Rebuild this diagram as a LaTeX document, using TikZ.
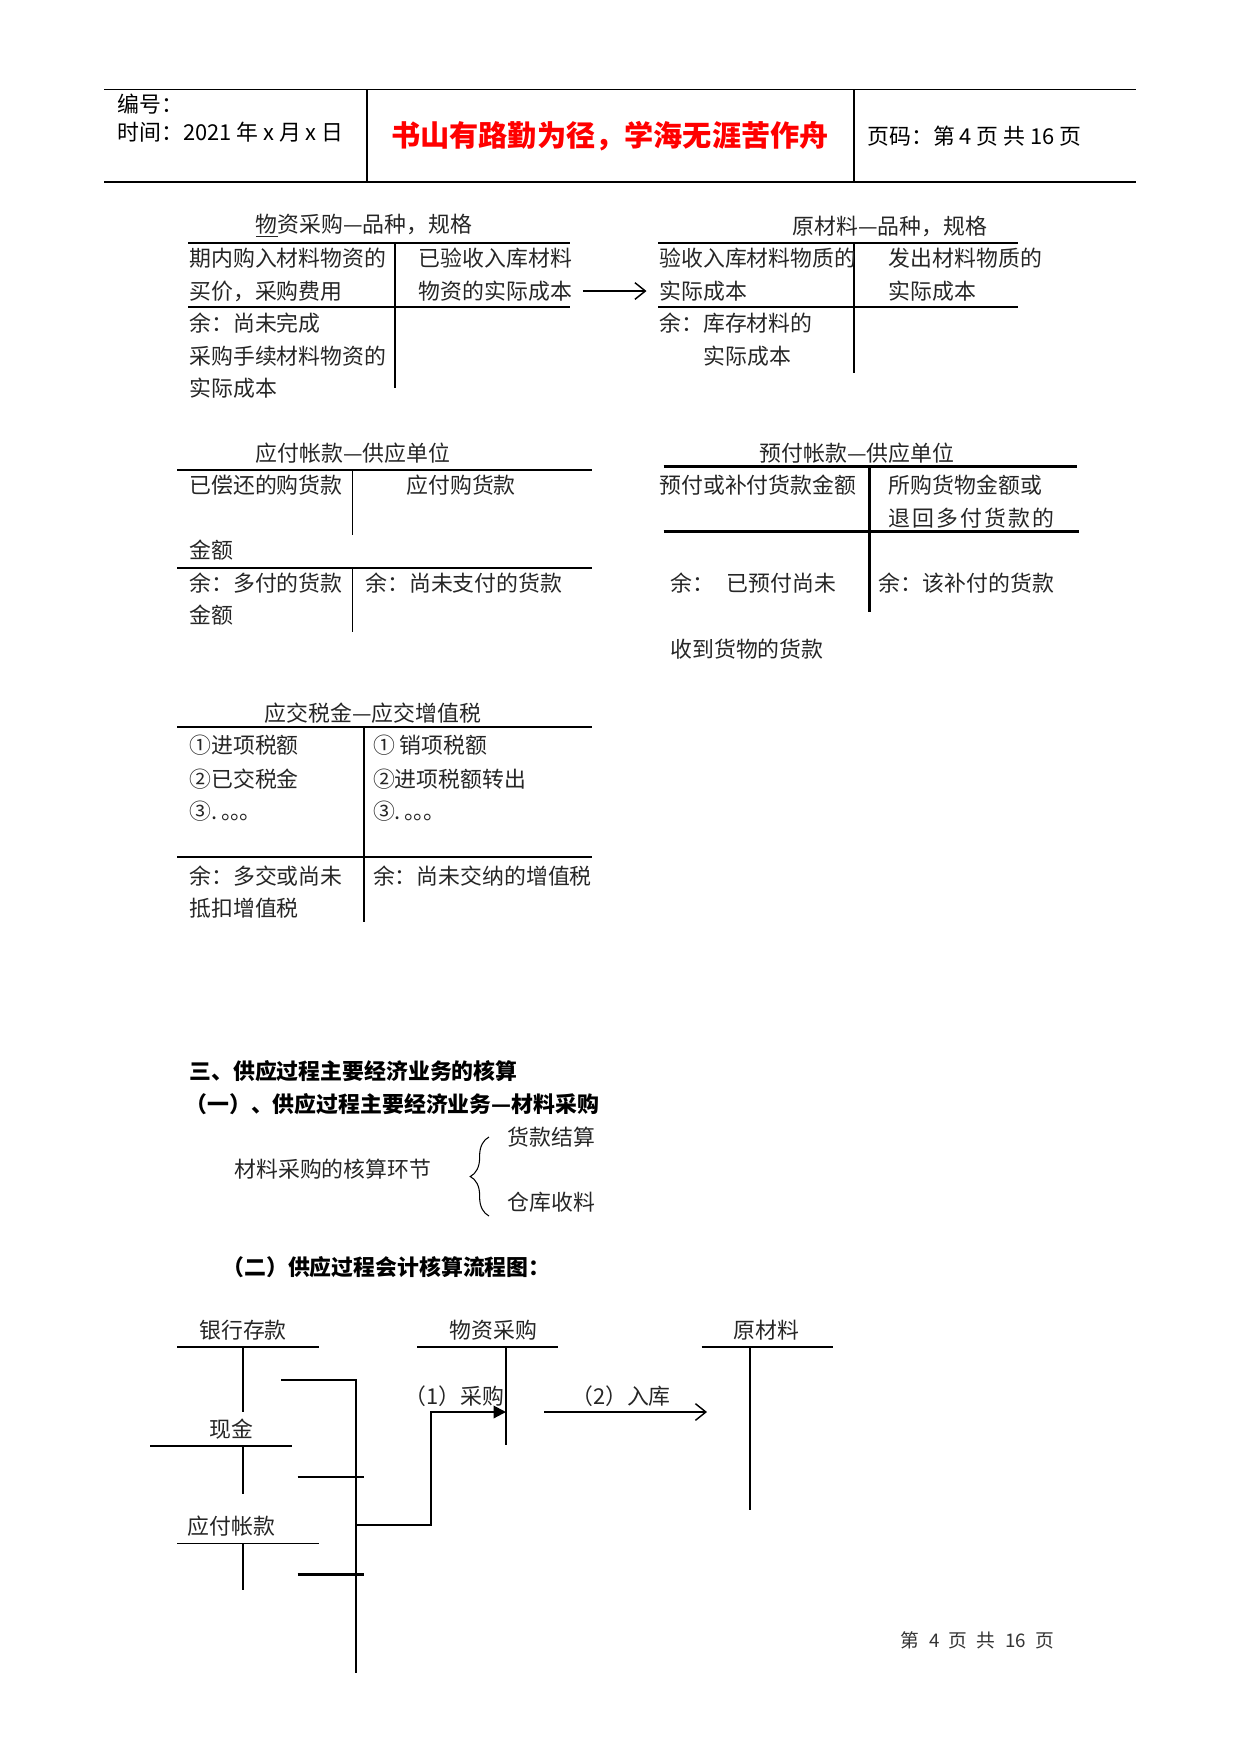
\documentclass[tikz,border=0pt]{standalone}
\usepackage{fontspec}
\setmainfont{Noto Sans CJK SC}
\usetikzlibrary{arrows.meta,positioning,calc,decorations.pathreplacing}

\newcommand{\dianhao}{\makebox[0.42em][l]{。}}

\begin{document}
\begin{tikzpicture}[
    x=0.48pt, y=-0.48pt,
    txt/.style={anchor=west, inner sep=0pt, font=\fontsize{10.5pt}{12pt}\selectfont, text=black!85},
    ttl/.style={inner sep=0pt, font=\fontsize{10.5pt}{12pt}\selectfont, text=black!85},
    hd/.style={anchor=west, inner sep=0pt, font=\fontsize{10.5pt}{12pt}\selectfont\bfseries},
    rule/.style={line width=0.5pt},
    heavy/.style={line width=1pt},
    arrow/.style={-{Straight Barb[length=5pt,width=8pt]}, line width=0.7pt},
    farrow/.style={-{Triangle[length=6pt,width=6pt]}, line width=1pt}
]
\useasboundingbox (0,0) rectangle (1241,1754);

% page header
\draw[rule] (104,89.5) -- (1136,89.5);
\draw[rule] (104,182) -- (1136,182);
\draw[heavy] (367,89.5) -- (367,182);
\draw[rule] (854,89.5) -- (854,182);
\node[txt, text=black] (bianhao) at (117,104) {编号：};
\node[txt, text=black] (shijian) at (117,132) {时间：2021 年 x 月 x 日};
\node[inner sep=0pt, font=\fontsize{14pt}{16pt}\selectfont\bfseries, text=red] (motto) at (610,136) {书山有路勤为径，学海无涯苦作舟};
\node[txt, text=black] (yema) at (867,136) {页码：第 4 页 共 16 页};

% T account: wuzi caigou
\node[ttl] (wzcg) at (364,226) {\underline{物}资采购—品种，规格};
\draw[rule] (188,243) -- (570,243);
\draw[rule] (188,307) -- (570,307);
\draw[rule] (395,243) -- (395,388);
\node[txt] (wzl1) at (189,258.5) {期内购入材料物资的};
\node[txt] (wzl2) at (189,291) {买价，采购费用};
\node[txt] (wzr1) at (418.5,258.5) {已验收入库材料};
\node[txt] (wzr2) at (418.5,291) {物资的实际成本};
\node[txt] (wzy1) at (189,323) {余：尚未完成};
\node[txt] (wzy2) at (189,356) {采购手续材料物资的};
\node[txt] (wzy3) at (189,388) {实际成本};

% T account: yuan cailiao
\node[ttl] (ycl) at (890,226) {原材料—品种，规格};
\draw[rule] (658,243) -- (1018,243);
\draw[rule] (658,307) -- (1018,307);
\draw[rule] (854,243) -- (854,373);
\node[txt] (ycll1) at (659,258.5) {验收入库材料物质的};
\node[txt] (ycll2) at (659,291) {实际成本};
\node[txt] (yclr1) at (888.5,258.5) {发出材料物质的};
\node[txt] (yclr2) at (888.5,291) {实际成本};
\node[txt] (ycly1) at (659,323) {余：库存材料的};
\node[txt] (ycly2) at (703,356) {实际成本};

\draw[arrow] ([xshift=5pt]wzr2.east) -- ([xshift=-6pt]ycll2.west);

% T account: yingfu zhangkuan
\node[ttl] (yfzk) at (353,453) {应付帐款—供应单位};
\draw[heavy] (177,470) -- (592,470);
\draw[rule] (177,568) -- (592,568);
\draw[rule] (352.5,470) -- (352.5,535);
\draw[rule] (352.5,568) -- (352.5,632);
\node[txt] (yfl1) at (189,485.5) {已偿还的购货款};
\node[txt] (yfr1) at (406,485.5) {应付购货款};
\node[txt] (yfl2) at (189,550.5) {金额};
\node[txt] (yfy1) at (189,583) {余：多付的货款};
\node[txt] (yfy2) at (189,615.5) {金额};
\node[txt] (yfy3) at (365,583) {余：尚未支付的货款};

% T account: yufu zhangkuan
\node[ttl] (yuzk) at (857,453) {预付帐款—供应单位};
\draw[heavy] (663.5,466.5) -- (1076.5,466.5);
\draw[heavy] (663.5,531.5) -- (1079,531.5);
\draw[heavy] (869.5,466.5) -- (869.5,612);
\node[txt] (yul1) at (659,485.5) {预付或补付货款金额};
\node[txt] (yur1) at (888.5,485.5) {所购货物金额或};
\node[txt] (yur2) at (888.5,518) {退\kern1pt 回\kern1pt 多\kern1pt 付\kern1pt 货\kern1pt 款\kern1pt 的};
\node[txt] (yuy1) at (670,583) {余：\hspace{6pt}已预付尚未};
\node[txt] (yuy2) at (878.5,583) {余：该补付的货款};
\node[txt] (yuy3) at (670,649) {收到货物的货款};

% T account: yingjiao shuijin
\node[ttl] (yjsj) at (373,713) {应交税金—应交增值税};
\draw[heavy] (177,727) -- (592,727);
\draw[heavy] (177,857) -- (592,857);
\draw[heavy] (363.7,727) -- (363.7,922);
\node[txt] (sjl1) at (189,745) {①进项税额};
\node[txt] (sjl2) at (189,779) {②已交税金};
\node[txt] (sjl3) at (189,811) {③.\,\dianhao\dianhao\dianhao};
\node[txt] (sjr1) at (372.6,745) {① 销项税额};
\node[txt] (sjr2) at (372.6,779) {②进项税额转出};
\node[txt] (sjr3) at (372.6,811) {③.\,\dianhao\dianhao\dianhao};
\node[txt] (sjy1) at (189,876) {余：多交或尚未};
\node[txt] (sjy2) at (189,908.6) {抵扣增值税};
\node[txt] (sjy3) at (372.6,876) {余：尚未交纳的增值税};

% section headings
\node[hd] (sec3) at (189,1071) {三、供应过程主要经济业务的核算};
\node[hd] (sec31) at (185,1104.5) {（一）、供应过程主要经济业务—材料采购};
\node[txt] (hj) at (234,1169) {材料采购的核算环节};
\node[txt] (hkjs) at (507,1137) {货款结算};
\node[txt] (cksl) at (507,1202) {仓库收料};
\draw[rule, decorate, decoration={brace, amplitude=9pt}] (489,1216) -- (489,1137);
\node[hd] (sec32) at (222,1267) {（二）供应过程会计核算流程图：};

% flow chart
\node[ttl] (yhck) at (243,1330.5) {银行存款};
\draw[rule] (177,1347) -- (319,1347);
\draw[heavy] (243,1347) -- (243,1412);
\node[ttl] (xj) at (231.6,1429) {现金};
\draw[heavy] (150,1446) -- (292,1446);
\draw[heavy] (243,1446) -- (243,1494);
\node[ttl] (yfzk2) at (231.6,1526) {应付帐款};
\draw[rule] (177,1543) -- (319,1543);
\draw[heavy] (243,1543) -- (243,1590);

\draw[heavy] (281,1380) -- (356,1380) -- (356,1673);
\draw[rule] (297.6,1477) -- (363.7,1477);
\draw[heavy] (297.6,1574.5) -- (363.7,1574.5);

\node[ttl] (wzcg2) at (493.5,1330.5) {物资采购};
\draw[rule] (417,1347) -- (558,1347);
\draw[heavy] (506,1347) -- (506,1444.6);

\node[ttl] (ycl2) at (766.5,1330.5) {原材料};
\draw[rule] (701.6,1347) -- (832.5,1347);
\draw[heavy] (749.7,1347) -- (749.7,1509.5);

\coordinate (joint) at (356,1525);
\coordinate (wzin) at (506,1412);
\coordinate (rkstart) at (544,1412);
\coordinate (rkend) at (707,1412);
\draw[farrow] (joint) -- ++(75,0) |- (wzin);
\node[ttl, anchor=east] (cg) at (505,1396.5) {（1）采购};
\draw[arrow] (rkstart) -- (rkend);
\node[ttl] (rk) at (621,1396.5) {（2）入库};

% page footer
\node[ttl, font=\fontsize{9pt}{11pt}\selectfont, text=black!80] (foot) at (977.5,1640.5) {第\enspace 4\enspace 页\enspace 共\enspace 16\enspace 页};

\end{tikzpicture}
\end{document}
